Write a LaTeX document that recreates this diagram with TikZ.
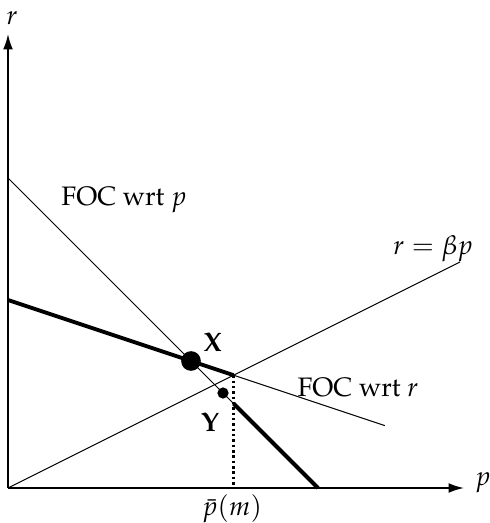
\documentclass[tikz,border=0pt]{standalone}
\usepackage{amsmath}
\usepackage[T1]{fontenc}
\usepackage{mathpazo}
\usepackage{tikz}
\usetikzlibrary{arrows.meta, calc}
\tikzset{
  axis line/.style={
    -{Latex[length=11pt,width=7pt]},
    line width=1.3pt
  },
  thin curve/.style={
    line width=0.7pt
  },
  thick curve/.style={
    line width=2.8pt
  },
  guide line/.style={
    dotted,
    line width=1.8pt
  },
  big dot/.style={
    circle,
    fill=black,
    inner sep=0pt,
    minimum size=14pt
  },
  small dot/.style={
    circle,
    fill=black,
    inner sep=0pt,
    minimum size=8pt
  },
  curve label/.style={
    font=\fontsize{19}{23}\selectfont
  }
}

\begin{document}
\begin{tikzpicture}
    % 1 cm 对应 40 像素, 原点在左下
    \useasboundingbox (-0.2, -0.875) rectangle (12.05, 12.2);

    % 坐标点
    \coordinate (O) at (0, 0);
    \coordinate (ytop) at (0, 11.35);
    \coordinate (xend) at (11.4, 0);
    \coordinate (pA) at (0, 7.75);
    \coordinate (pB) at (7.75, 0);
    \coordinate (rA) at (0, 4.7);
    \coordinate (rB) at (9.42, 1.56);
    \coordinate (bEnd) at (11.3, 5.65);
    \coordinate (K) at (5.64, 2.82);
    \coordinate (Kp) at (5.64, 2.11);
    \coordinate (Kx) at (5.64, 0);

    % 纵横轴
    \draw[axis line] (O) -- (ytop);
    \draw[axis line] (O) -- (xend);
    \node[curve label, anchor=south] (rlab) at (0.1, 11.45) {$r$};
    \node[curve label, anchor=west] (plab) at (11.55, 0.12) {$p$};

    % 三条直线
    \draw[thin curve] (pA) -- (pB);
    \draw[thin curve] (rA) -- (rB);
    \draw[thin curve] (O) -- (bEnd);

    % 粗线部分
    \draw[thick curve] (rA) -- (K);
    \draw[thick curve] (Kp) -- (pB);
    \draw[guide line] (K) -- (Kx);

    % 点
    \node[big dot] (X) at (4.575, 3.175) {};
    \node[small dot] (Y) at (5.375, 2.375) {};

    % 标签
    \node[curve label] (focp) at (2.9, 7.2) {FOC wrt $p$};
    \node[curve label] (focr) at (8.75, 2.5) {FOC wrt $r$};
    \node[curve label, anchor=base east, inner sep=0pt] (beta) at (11.63, 5.83) {$r=\beta p$};
    \node[curve label] (Xlab) at (5.12, 3.65) {$\mathbf{X}$};
    \node[curve label] (Ylab) at (5.05, 1.65) {$\mathbf{Y}$};
    \node[curve label, inner sep=1pt] (pbar) at (5.6, -0.52) {$\bar{p}(m)$};

  \end{tikzpicture}
\end{document}
